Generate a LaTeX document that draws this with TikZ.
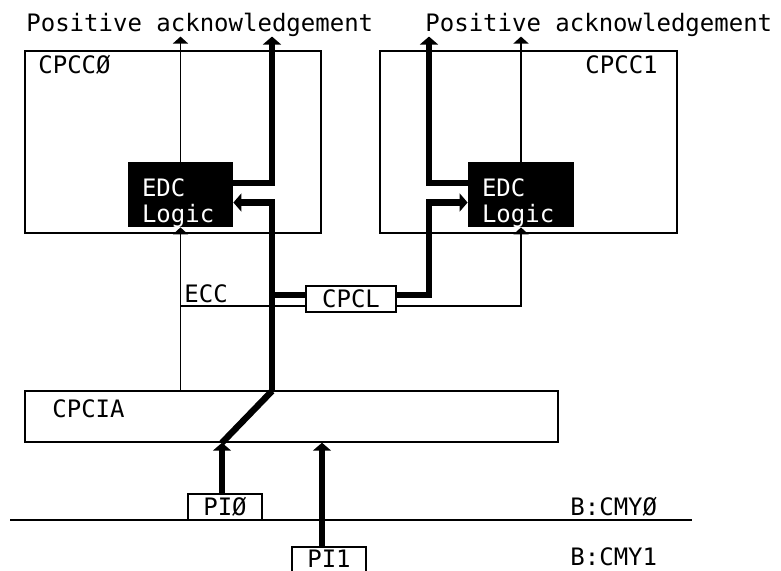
\documentclass[tikz,border=0pt]{standalone}
\usepackage{fontspec}
\setmonofont{DejaVu Sans Mono}
\usetikzlibrary{arrows.meta, calc}

\begin{document}
\begin{tikzpicture}[
    x=0.5pt, y=-0.5pt,
    font=\ttfamily\fontsize{12}{13}\selectfont,
    >={Triangle[length=3.5pt, width=7.5pt]},
    card/.style={rectangle, draw, line width=0.7pt, inner sep=0pt},
    edcbox/.style={
        rectangle, fill=black, inner sep=0pt,
        minimum width=#1, minimum height=32.5pt,
        label={[text=white, align=left, inner sep=0pt, anchor=north west,
                xshift=7pt, yshift=-8.5pt]north west:{EDC\\Logic}},
    },
    tag/.style={card, fill=white, minimum width=#1, minimum height=13pt},
    lbl/.style={inner sep=0pt, anchor=base west},
    wire/.style={line width=0.8pt},
    bus/.style={line width=3.2pt},
    busarrow/.style={bus, -{Triangle[length=4pt, width=9pt]}},
]
\useasboundingbox (0,0) rectangle (781,570);

% =============== Boards ===============
\node[card, minimum width=148pt, minimum height=91pt] (cpcc0) at (173,142) {};
\node[card, minimum width=148.5pt, minimum height=91pt] (cpcc1) at (528.5,142) {};
\node[lbl] (cpcc0lbl) at (38,73) {CPCCØ};
\node[lbl] (cpcc1lbl) at (585,73) {CPCC1};
\node[edcbox=52.5pt] (edc0) at (180.5,194.5) {};
\node[edcbox=53pt] (edc1) at (521,194.5) {};

\node[card, minimum width=266.5pt, minimum height=25.5pt] (cpcia) at (291.5,416.5) {};
\node[lbl] (cpcialbl) at (52,417) {CPCIA};

% =============== Labels ===============
\node[lbl] (ack0) at (26,31) {Positive acknowledgement};
\node[lbl] (ack1) at (425,31) {Positive acknowledgement};
\node[lbl] (ecc) at (184,302) {ECC};
\node[lbl] (cmy0) at (570,515) {B:CMYØ};
\node[lbl] (cmy1) at (570,565) {B:CMY1};

% =============== Small units ===============
\node[tag=45pt] (cpcl) at (351,299) {CPCL};
\node[tag=37pt] (pi0) at (225,507) {PIØ};
% PI1 runs off the lower edge
\node[tag=37pt, text depth=1pt] (pi1) at (329,560) {PI1};

% bus junctions
\coordinate (bus0) at (272,391);
\coordinate (bus1) at (429,295);
\coordinate (eccl) at (180,306);
\coordinate (cmy0w) at (10,520);
\coordinate (cmy0e) at (692,520);
\coordinate (in0) at ($(pi0.north |- cpcia.south)+(-3,0)$);
\coordinate (in1) at ($(pi1.north |- cpcia.south)+(-7,0)$);

% =============== Acknowledgements ===============
\draw[wire,->] (edc0.north) -- (edc0.north |- ack0.south);
\draw[wire,->] (edc1.north) -- (edc1.north |- ack1.south);
\draw[busarrow] ([yshift=5.75pt]edc0.east) -| (bus0 |- ack0.south);
\draw[busarrow] ([yshift=5.75pt]edc1.west) -| (bus1 |- ack1.south);

% =============== Paths into the EDC logic ===============
\draw[busarrow] (bus0) |- ([yshift=-4pt]edc0.east);
\draw[bus] (bus0 |- bus1) -- (cpcl.west |- bus1);
\draw[busarrow] (cpcl.east |- bus1) -- (bus1) |- ([yshift=-4pt]edc1.west);

% ECC
\draw[wire,->] (edc0.south |- cpcia.north) -- (edc0.south);
\draw[wire] (edc0.south |- eccl) -- (cpcl.west |- eccl);
\draw[wire,->] (cpcl.east |- eccl) -| (edc1.south);

% =============== Bus and interfaces ===============
\draw[wire] (cmy0w) -- (cmy0e);
\draw[bus] (bus0) -- (in0);
\draw[busarrow] (pi0.north -| in0) -- (in0);
\draw[busarrow] (pi1.north -| in1) -- (in1);

\end{tikzpicture}
\end{document}
